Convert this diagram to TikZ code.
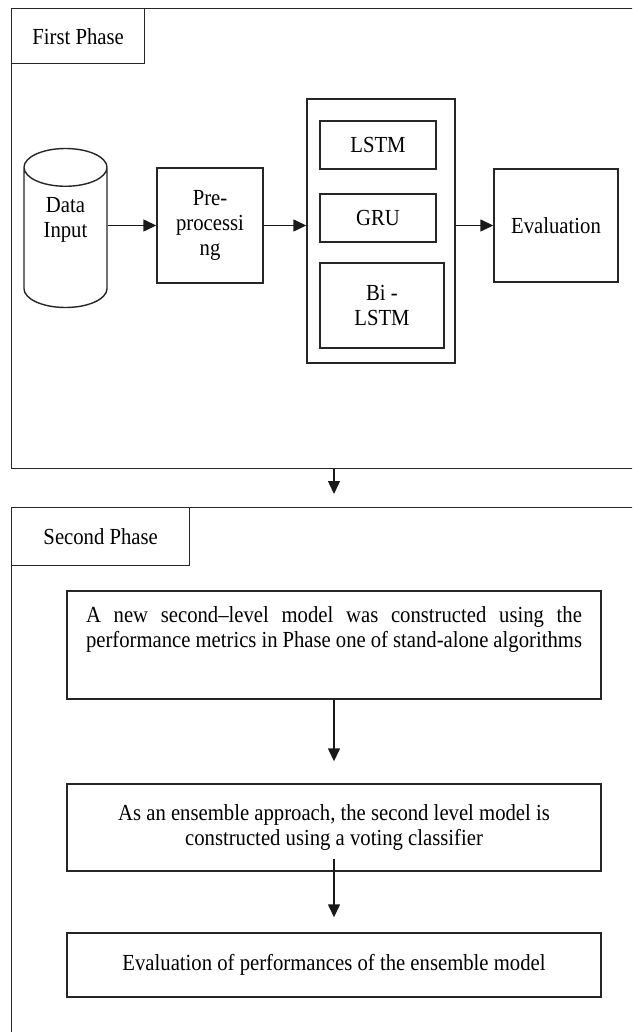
\documentclass[tikz,border=0pt]{standalone}
\usepackage{fontspec}
\setmainfont[FakeStretch=0.9]{Liberation Serif}
\usepackage{tikz}
\usetikzlibrary{arrows.meta,calc,positioning,shapes.geometric}
\tikzset{
  phase/.style={draw=black!85, line width=1.4pt, fill=none, inner sep=0pt},
  tab/.style={draw=black!85, line width=1.4pt, fill=white, align=center, font=\fontsize{23}{25}\selectfont},
  store/.style={draw=black!85, line width=1.4pt, cylinder, shape border rotate=90, aspect=0.75, align=center, font=\fontsize{23}{25}\selectfont},
  process/.style={draw=black!85, line width=1.4pt, fill=white, align=center, font=\fontsize{23}{25}\selectfont},
  group/.style={draw=black!85, line width=1.4pt, fill=white, inner sep=0pt},
  stage/.style={draw=black!85, line width=1.4pt, fill=white, minimum width=534pt, font=\fontsize{23}{25}\selectfont},
  flow/.style={-{Triangle[length=13pt, width=12pt]}, line width=1.4pt, black!90}
}

\begin{document}
\begin{tikzpicture}[x=1pt,y=-1pt]
  \useasboundingbox (0,0) rectangle (632,1032);
  \clip (0,0) rectangle (632,1032);

  \node[phase, anchor=north west, minimum width=700pt, minimum height=460pt] (phaseOne) at (11,8) {};
  \node[tab, anchor=north west, minimum width=133pt, minimum height=55pt] (tabOne) at (11,8) {First Phase};

  \node[store, minimum width=83pt, minimum height=159pt, text depth=48pt] (dataIn) at (65.5,241.5) {Data\\Input};
  \node[process, minimum width=106pt, minimum height=115pt] (prep) at (210,225.5) {Pre-\\processi\\ng};
  \node[group, minimum width=148pt, minimum height=264pt] (models) at (381,231) {};
  \node[process, minimum width=116pt, minimum height=48pt] (lstm) at (378,145) {LSTM};
  \node[process, minimum width=116pt, minimum height=48pt] (gru) at (378,218) {GRU};
  \node[process, minimum width=124pt, minimum height=85pt] (bilstm) at (382,305.5) {Bi -\\LSTM};
  \node[process, minimum width=124pt, minimum height=113pt] (evalOne) at (556,225.5) {Evaluation};

  \draw[flow] (dataIn.east |- prep.west) -- (prep.west);
  \draw[flow] (prep.east) -- (prep.east -| models.west);
  \draw[flow] (models.east |- evalOne.west) -- (evalOne.west);

  \node[phase, anchor=north west, minimum width=700pt, minimum height=600pt] (phaseTwo) at (11,507) {};
  \node[tab, anchor=north west, minimum width=178pt, minimum height=58pt] (tabTwo) at (11,507) {Second Phase};

  \node[stage, minimum height=108pt, text width=496pt, align=justify, text depth=61pt] (stepA) at (334,645)
    {A new second–level model was constructed using the\linebreak performance metrics in Phase one of stand-alone algorithms};
  \node[stage, minimum height=87pt, align=center] (stepB) at (334,827.5)
    {As an ensemble approach, the second level model is\\constructed using a voting classifier};
  \node[stage, minimum height=64pt, align=center] (stepC) at (334,965)
    {Evaluation of performances of the ensemble model};

  \draw[flow, shorten >=13pt] (phaseOne.south -| stepA.north) -- (phaseTwo.north -| stepA.north);
  \draw[flow, shorten >=22pt] (stepA.south) -- (stepB.north);
  \draw[flow, shorten >=15pt] ([yshift=13pt]stepB.south) -- (stepC.north);
\end{tikzpicture}
\end{document}
